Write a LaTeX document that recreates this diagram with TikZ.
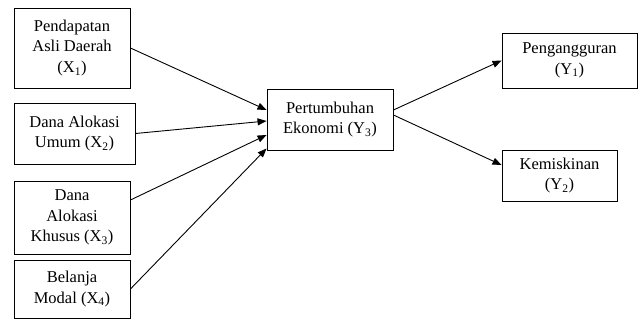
\documentclass[tikz,border=0pt]{standalone}
\usepackage{fontspec}
\setmainfont{Liberation Serif}
\usepackage{tikz}
\usetikzlibrary{arrows.meta,positioning,calc}

\begin{document}
\begin{tikzpicture}[
  x=1pt, y=-1pt,
  >={Triangle[length=9pt,width=7pt]},
  font=\fontsize{16.5}{20.5}\selectfont,
  box/.style={draw, line width=0.9pt, rectangle, align=center, inner sep=0pt},
  arr/.style={->, line width=0.9pt}
]
\useasboundingbox (0,0) rectangle (643,320);
\node[box, minimum width=116pt, minimum height=80pt] (x1) at (72,48) {Pendapatan\\Asli Daerah\\(X\textsubscript{1})};
\node[box, minimum width=121pt, minimum height=61pt] (x2) at (74.5,133.5) {Dana Alokasi\\Umum (X\textsubscript{2})};
\node[box, minimum width=116pt, minimum height=73pt] (x3) at (72,217.5) {Dana\\Alokasi\\Khusus (X\textsubscript{3})};
\node[box, minimum width=116pt, minimum height=58pt] (x4) at (72,289) {Belanja\\Modal (X\textsubscript{4})};
\node[box, minimum width=126pt, minimum height=61pt] (y3) at (330,119.5) {Pertumbuhan\\Ekonomi (Y\textsubscript{3})};
\node[box, minimum width=135pt, minimum height=55pt] (y1) at (569.5,60.5) {Pengangguran\\(Y\textsubscript{1})};
\node[box, minimum width=115pt, minimum height=51pt] (y2) at (559.5,175.5) {Kemiskinan\\(Y\textsubscript{2})};

\draw[arr] (x1.east) -- ([yshift=9.5pt]y3.west);
\draw[arr] (x2.east) -- ([yshift=-1.5pt]y3.west);
\draw[arr] ([yshift=17.5pt]x3.east) -- ([yshift=-15.5pt]y3.west);
\draw[arr] (x4.east) -- ([yshift=-29pt]y3.west);
\draw[arr] ([yshift=9.5pt]y3.east) -- (y1.west);
\draw[arr] ([yshift=4.5pt]y3.east) -- ([yshift=10.5pt]y2.west);
\end{tikzpicture}
\end{document}
